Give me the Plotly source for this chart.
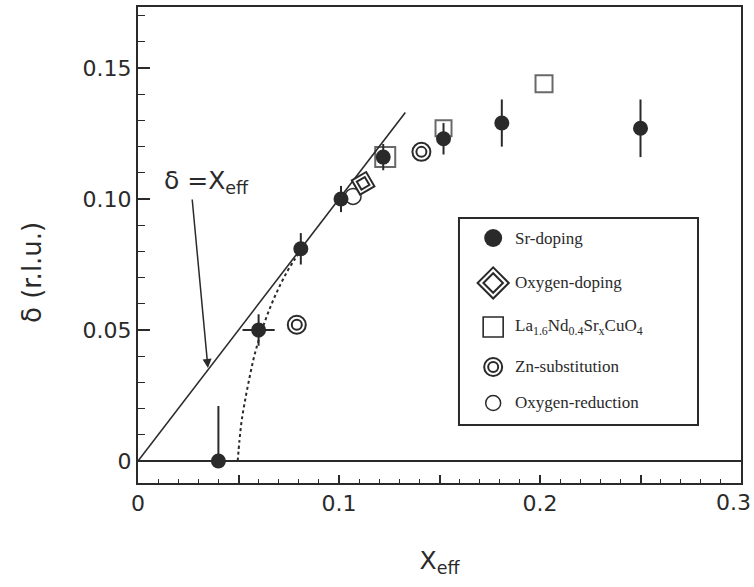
import plotly.graph_objects as go

# ---------------- data ----------------
# Sr-doping (filled circles)
sr_x = [0.040, 0.060, 0.081, 0.101, 0.122, 0.152, 0.181, 0.250]
sr_y = [0.000, 0.050, 0.081, 0.100, 0.116, 0.123, 0.129, 0.127]
sr_err_up = [0.021, 0.006, 0.006, 0.005, 0.005, 0.006, 0.009, 0.011]
sr_err_dn = [0.000, 0.006, 0.006, 0.005, 0.005, 0.006, 0.009, 0.011]
sr_err_x = [0.000, 0.008, 0.000, 0.000, 0.000, 0.000, 0.000, 0.000]

# Oxygen-doping (double diamond)
oxd_x = [0.112]
oxd_y = [0.106]

# La1.6Nd0.4SrxCuO4 (open squares)
lnsco_x = [0.123, 0.152, 0.202]
lnsco_y = [0.116, 0.127, 0.144]

# Zn-substitution (double circles)
zn_x = [0.079, 0.141]
zn_y = [0.052, 0.118]

# Oxygen-reduction (open circle)
oxr_x = [0.107]
oxr_y = [0.101]

# delta = x_eff reference line
line_x = [0.0, 0.133]
line_y = [0.0, 0.133]

# dotted guide curve
fit_x = [0.0496, 0.0505, 0.0515, 0.0530, 0.0550, 0.0575, 0.0600, 0.0630, 0.0665, 0.0700, 0.0740, 0.0780, 0.0805]
fit_y = [0.000, 0.008, 0.015, 0.022, 0.030, 0.039, 0.046, 0.053, 0.060, 0.066, 0.072, 0.077, 0.080]

# axis ticks (last x label drawn separately so it stays inside the page)
x_tickvals = [0, 0.05, 0.1, 0.15, 0.2, 0.25, 0.3]
x_ticktext = ["0", "", "0.1", "", "0.2", "", ""]
x_last_label = "0.3"
y_tickvals = [0, 0.05, 0.10, 0.15]
y_ticktext = ["0", "0.05", "0.10", "0.15"]

x_title = "X<sub>eff</sub>"
y_title = "δ (r.l.u.)"

legend_labels = ["Sr-doping", "Oxygen-doping",
                 "La<sub>1.6</sub>Nd<sub>0.4</sub>Sr<sub>x</sub>CuO<sub>4</sub>",
                 "Zn-substitution", "Oxygen-reduction"]

# ---------------- styling ----------------
INK = "#2a2a2a"
SANS = "DejaVu Sans, Liberation Sans, sans-serif"
SERIF = "Liberation Serif, Times New Roman, serif"

fig = go.Figure()

fig.add_trace(go.Scatter(x=line_x, y=line_y, mode="lines",
                         line=dict(color=INK, width=1.6), hoverinfo="skip", showlegend=False))
fig.add_trace(go.Scatter(x=fit_x, y=fit_y, mode="lines",
                         line=dict(color=INK, width=2, dash="dot", shape="spline"),
                         hoverinfo="skip", showlegend=False))

# Oxygen-reduction open circle
fig.add_trace(go.Scatter(x=oxr_x, y=oxr_y, mode="markers", showlegend=False,
                         marker=dict(symbol="circle", size=16, color="white",
                                     line=dict(color=INK, width=1.5))))
# Oxygen-doping double diamond
fig.add_trace(go.Scatter(x=oxd_x, y=oxd_y, mode="markers", showlegend=False,
                         marker=dict(symbol="diamond", size=18, color="white", angle=15,
                                     line=dict(color=INK, width=2))))
fig.add_trace(go.Scatter(x=oxd_x, y=oxd_y, mode="markers", showlegend=False,
                         marker=dict(symbol="diamond-open", size=10, color=INK, angle=15,
                                     line=dict(color=INK, width=2))))
# Zn double circles
fig.add_trace(go.Scatter(x=zn_x, y=zn_y, mode="markers", showlegend=False,
                         marker=dict(symbol="circle", size=18, color="white",
                                     line=dict(color=INK, width=2))))
fig.add_trace(go.Scatter(x=zn_x, y=zn_y, mode="markers", showlegend=False,
                         marker=dict(symbol="circle-open", size=10, color=INK,
                                     line=dict(color=INK, width=2))))
# La-Nd squares
fig.add_trace(go.Scatter(x=lnsco_x, y=lnsco_y, mode="markers", showlegend=False,
                         marker=dict(symbol="square-open", size=[20, 16, 17], color=INK,
                                     line=dict(color=INK, width=2))))
# Sr-doping with error bars
fig.add_trace(go.Scatter(x=sr_x, y=sr_y, mode="markers", showlegend=False,
                         marker=dict(symbol="circle", size=15, color=INK),
                         error_y=dict(type="data", symmetric=False, array=sr_err_up,
                                      arrayminus=sr_err_dn, color=INK, thickness=2, width=0),
                         error_x=dict(type="data", array=sr_err_x, color=INK,
                                      thickness=2, width=0)))

# ---------------- hand-drawn legend (overlay axes in 0..1 units) ----------------
leg_mx = 0.589
leg_tx = 0.622
leg_rows = [0.5147, 0.4202, 0.3277, 0.2437, 0.1681]

def legmark(row, **m):
    fig.add_trace(go.Scatter(x=[leg_mx], y=[leg_rows[row]], xaxis="x2", yaxis="y2",
                             mode="markers", marker=m, showlegend=False, hoverinfo="skip"))

legmark(0, symbol="circle", size=18, color=INK)
legmark(1, symbol="diamond", size=24, color="white", line=dict(color=INK, width=2))
legmark(1, symbol="diamond-open", size=15, color=INK, line=dict(color=INK, width=2))
legmark(2, symbol="square-open", size=20, color=INK, line=dict(color=INK, width=1.6))
legmark(3, symbol="circle", size=18, color="white", line=dict(color=INK, width=2))
legmark(3, symbol="circle-open", size=10, color=INK, line=dict(color=INK, width=2))
legmark(4, symbol="circle", size=15, color="white", line=dict(color=INK, width=1.5))

annotations = []
for lab, yy in zip(legend_labels, leg_rows):
    annotations.append(dict(x=leg_tx, y=yy, xref="paper", yref="paper", text=lab,
                            showarrow=False, xanchor="left", yanchor="middle",
                            font=dict(family=SERIF, size=17, color=INK)))

# delta = x_eff label and arrow
annotations.append(dict(x=0.0119, y=0.1064, xref="x", yref="y",
                        text="δ =X<sub>eff</sub>", showarrow=False,
                        xanchor="left", yanchor="middle",
                        font=dict(family=SANS, size=25, color=INK)))
annotations.append(dict(x=0.0348, y=0.0355, xref="x", yref="y", text="",
                        showarrow=True, ax=0.0269, ay=0.1004, axref="x", ayref="y",
                        arrowhead=2, arrowsize=1.2, arrowwidth=1.5, arrowcolor=INK))

# last x tick label, pulled in from the page edge
annotations.append(dict(x=x_tickvals[-1], y=0, xref="x", yref="paper", text=x_last_label,
                        showarrow=False, xanchor="right", yanchor="middle",
                        xshift=12, yshift=-19,
                        font=dict(family=SANS, size=22, color=INK)))

# y axis title
annotations.append(dict(x=-0.176, y=0.443, xref="paper", yref="paper", text=y_title,
                        showarrow=False, textangle=-90, xanchor="center", yanchor="middle",
                        font=dict(family=SANS, size=26, color=INK)))

fig.update_layout(
    width=754, height=587,
    margin=dict(l=138, r=13, t=7, b=104),
    paper_bgcolor="white", plot_bgcolor="white",
    showlegend=False,
    annotations=annotations,
    shapes=[dict(type="rect", xref="paper", yref="paper",
                 x0=0.5323, x1=0.9287, y0=0.1218, y1=0.5567,
                 line=dict(color=INK, width=2), fillcolor="rgba(0,0,0,0)")],
    xaxis=dict(range=[0, 0.3], showgrid=False, zeroline=False, automargin=False,
               showline=True, mirror=True, linecolor=INK, linewidth=2,
               tickmode="array", tickvals=x_tickvals, ticktext=x_ticktext,
               ticks="inside", ticklen=8, tickwidth=1.5, tickcolor=INK,
               minor=dict(ticks="inside", ticklen=4, tickwidth=1.2, tickcolor=INK,
                          tickmode="linear", tick0=0, dtick=0.01, showgrid=False),
               tickfont=dict(family=SANS, size=22, color=INK),
               title=dict(text=x_title, font=dict(family=SANS, size=25, color=INK),
                          standoff=36)),
    yaxis=dict(range=[-0.0084, 0.1733], showgrid=False, automargin=False,
               zeroline=True, zerolinecolor=INK, zerolinewidth=2,
               showline=True, mirror=True, linecolor=INK, linewidth=2,
               tickmode="array", tickvals=y_tickvals, ticktext=y_ticktext,
               ticks="inside", ticklen=12, tickwidth=1.5, tickcolor=INK,
               minor=dict(ticks="inside", ticklen=7, tickwidth=1.2, tickcolor=INK,
                          tickmode="linear", tick0=0, dtick=0.01, showgrid=False),
               tickfont=dict(family=SANS, size=22, color=INK)),
    xaxis2=dict(overlaying="x", anchor="y2", range=[0, 1], visible=False, fixedrange=True),
    yaxis2=dict(overlaying="y", anchor="x2", range=[0, 1], visible=False, fixedrange=True),
)

fig.write_html("out.html", config={"displayModeBar": False},
               post_script="document.body.style.margin='0';")
